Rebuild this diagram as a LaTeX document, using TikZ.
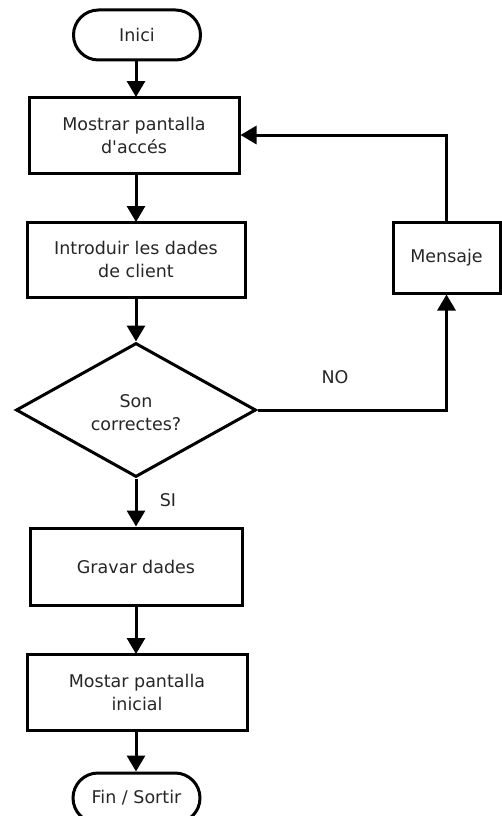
\documentclass[tikz,border=0pt]{standalone}
\usepackage{fontspec}
\newfontfamily\dvsans{DejaVu Sans}
\usetikzlibrary{shapes.geometric,arrows.meta}
\begin{document}
\begin{tikzpicture}[x=1pt,y=-1pt,
  every node/.style={font=\dvsans\fontsize{17.5}{23}\selectfont, align=center, line width=3pt, inner sep=0pt, text=black!85},
  procbox/.style={draw, rectangle},
  termbox/.style={draw, rectangle, rounded corners=25pt, minimum width=127pt, minimum height=50pt},
  decbox/.style={draw, diamond, minimum width=240pt, minimum height=134pt},
  lbl/.style={draw=none},
  arr/.style={line width=3pt, -{Triangle[length=16pt,width=18pt]}}]
\useasboundingbox (0,0) rectangle (502,816);
\node[termbox] (inici) at (137,35) {Inici};
\node[procbox, minimum width=210pt, minimum height=76pt] (mostrar) at (134,135) {Mostrar pantalla\\d'accés};
\node[procbox, minimum width=218pt, minimum height=75pt] (intro) at (136,259.5) {Introduir les dades\\de client};
\node[decbox] (dec) at (136,410) {};
\node[lbl] (dectext) at (136,413) {Son\\correctes?};
\node[procbox, minimum width=212pt, minimum height=77pt] (gravar) at (136,566.5) {Gravar dades};
\node[procbox, minimum width=220pt, minimum height=76pt] (mostar) at (137,692) {Mostar pantalla\\inicial};
\node[termbox] (fin) at (136.5,798) {Fin / Sortir};
\node[procbox, minimum width=107pt, minimum height=71pt] (msg) at (446.5,257.5) {Mensaje};
\node[lbl] (no) at (335,377) {NO};
\node[lbl] (si) at (168,500) {SI};
\draw[arr] (136,60) -- (136,97);
\draw[arr] (136,173) -- (136,222);
\draw[arr] (136,297) -- (dec.north);
\draw[arr] (dec.south) -- (gravar.north -| dec.south);
\draw[arr] (136,605) -- (136,654);
\draw[arr] (136,730) -- (fin.north -| 136,0);
\draw[arr] (dec.east) -| (msg.south);
\draw[arr] (msg.north) |- (mostrar.east);
\end{tikzpicture}
\end{document}
